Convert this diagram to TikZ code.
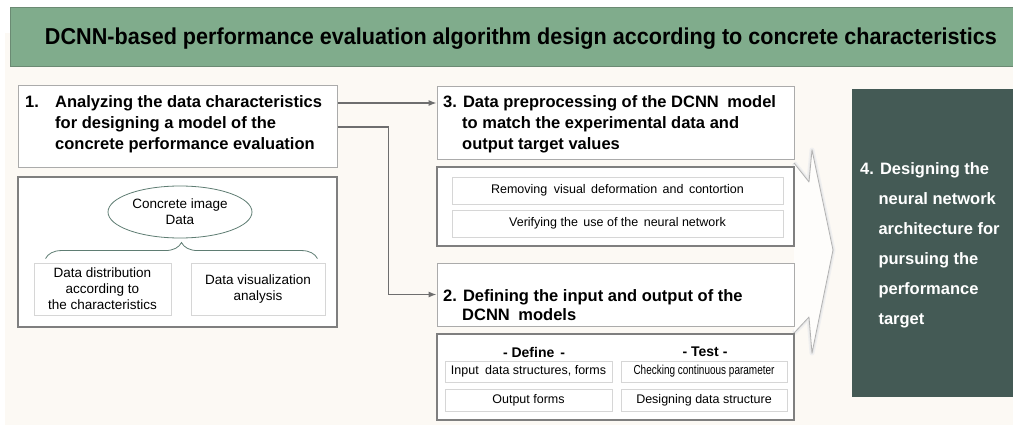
\documentclass[tikz,border=0pt]{standalone}
\usepackage{fontspec}
\setmainfont{Liberation Sans}
\usetikzlibrary{arrows.meta,decorations.pathreplacing,shapes.geometric,calc}

\definecolor{cream}{HTML}{FCF9F4}
\definecolor{banner}{HTML}{80AC8C}
\definecolor{bannerline}{HTML}{6B8A73}
\definecolor{slate}{HTML}{445A55}
\definecolor{boxline}{HTML}{ABABAB}
\definecolor{panelline}{HTML}{7F7F7F}
\definecolor{cellline}{HTML}{D6D6D6}
\definecolor{wire}{HTML}{6E6E6E}
\definecolor{ovalline}{HTML}{5F7D73}
\definecolor{arrowfill}{HTML}{FEFDFB}

\newcommand{\hdfont}{\fontsize{16.5}{21}\selectfont\bfseries}
\newcommand{\smfont}{\fontsize{12.5}{15}\selectfont}
\newcommand{\mdfont}{\fontsize{13.5}{16}\selectfont}

\begin{document}
\begin{tikzpicture}[x=1pt,y=-1pt,
  hdr/.style={draw=boxline, line width=1pt, fill=white, inner sep=0pt},
  panel/.style={draw=panelline, line width=1.4pt, fill=white, inner sep=0pt},
  cell/.style={draw=cellline, line width=0.9pt, fill=white, inner sep=0pt, align=center, font=\smfont},
  subcell/.style={cell, font=\mdfont},
  conn/.style={draw=wire, line width=1.1pt, -{Latex[length=8pt,width=6pt]}},
  headtxt/.style={font=\hdfont, inner sep=0pt, anchor=west, align=left},
]
\useasboundingbox (0,0) rectangle (1013,425);
\fill[white] (0,0) rectangle (1013,425);
\fill[cream] (5,33) rectangle (1013,425);

% title banner
\node[fill=banner, draw=bannerline, line width=1pt, minimum width=1010, minimum height=59, inner sep=0pt] (banner) at (515,37.5) {};
\node[font=\fontsize{23}{27}\selectfont\bfseries, inner sep=0pt] (title) at (521,38.5)
  {\resizebox{952pt}{\height}{DCNN-based performance evaluation algorithm design according to concrete characteristics}};

% merging arrow towards the final stage
\coordinate (m1) at (794,163);
\coordinate (m2) at (809,182);
\coordinate (m3) at (812,150);
\coordinate (m4) at (833,250);
\coordinate (m5) at (812,353);
\coordinate (m6) at (809,317);
\coordinate (m7) at (794,333);
\draw[black!6, line width=5pt, line join=round] (m1) -- (m2) -- (m3) -- (m4) -- (m5) -- (m6) -- (m7);
\draw[black!10, line width=2.5pt, line join=round] (m1) -- (m2) -- (m3) -- (m4) -- (m5) -- (m6) -- (m7);
\fill[arrowfill] (m1) -- (m2) -- (m3) -- (m4) -- (m5) -- (m6) -- (m7) -- cycle;
\draw[black!30, line width=0.8pt, line join=round] (m1) -- (m2) -- (m3) -- (m4) -- (m5) -- (m6) -- (m7);

% stage 1
\node[hdr, minimum width=319, minimum height=82] (b1) at (177.5,127) {};
\node[headtxt] (t1) at (25,124.5)
  {\makebox[30pt][l]{1.}Analyzing the data characteristics\\
   \hspace*{30pt}for designing a model of the\\
   \hspace*{30pt}concrete performance evaluation};
\node[panel, minimum width=319, minimum height=150] (p1) at (177.5,252) {};
\node[ellipse, draw=ovalline, line width=0.8pt, fill=white, minimum width=144, minimum height=52, inner sep=0pt, align=center, font=\mdfont] (oval) at (180,212) {Concrete image\\Data};
\node[subcell, minimum width=137, minimum height=52] (d1) at (102.5,289) {Data distribution\\according to\\the characteristics};
\node[subcell, minimum width=134, minimum height=52] (d2) at (258,289) {Data visualization\\analysis};
\coordinate (brl) at ($(d1.north west)+(12,-4)$);
\coordinate (brr) at ($(d2.north east)+(-8,-4)$);
\draw[ovalline, line width=0.8pt, decorate, decoration={brace, amplitude=16pt, aspect=0.5}] (brl) -- (brr);

% stage 3
\node[hdr, minimum width=357, minimum height=73] (b3) at (615.5,123.5) {};
\node[headtxt] (t3) at (443,124.2)
  {3. Data preprocessing of the DCNN\hspace{4pt} model\\
   \hspace*{19pt}to match the experimental data and\\
   \hspace*{19pt}output target values};
\node[panel, minimum width=357, minimum height=79] (p3) at (615.5,206.5) {};
\node[cell, minimum width=331, minimum height=27] (r1) at (617.5,190.5) {Removing\hspace{3pt} visual\hspace{2pt} deformation\hspace{2pt} and\hspace{2pt} contortion};
\node[cell, minimum width=331, minimum height=27] (r2) at (617.5,223.5) {Verifying the\hspace{2pt} use of the\hspace{2pt} neural network};

% stage 2
\node[hdr, minimum width=357, minimum height=63] (b2) at (615.5,294.5) {};
\node[headtxt, font=\fontsize{16.5}{19.5}\selectfont\bfseries] (t2) at (443,305)
  {2. Defining the input and output of the\\
   \hspace*{19pt}DCNN\hspace{4pt} models};
\node[panel, minimum width=357, minimum height=86] (p2) at (615.5,377) {};
\node[font=\fontsize{14}{16}\selectfont\bfseries, inner sep=0pt] (def) at (534,352) {- Define\hspace{2pt} -};
\node[font=\fontsize{14}{16}\selectfont\bfseries, inner sep=0pt] (tst) at (705,352) {- Test -};
\node[cell, minimum width=167, minimum height=21] (i1) at (528.5,371.5) {Input\hspace{3pt} data structures, forms};
\node[cell, minimum width=166, minimum height=21, font=\fontsize{13}{15}\selectfont] (i2) at (704,371.5) {\resizebox{141pt}{\height}{Checking continuous parameter}};
\node[cell, minimum width=167, minimum height=22] (i3) at (528.5,400) {Output forms};
\node[cell, minimum width=166, minimum height=22] (i4) at (704,400) {Designing data structure};

% stage 4
\node[fill=slate, minimum width=170, minimum height=308, inner sep=0pt] (b4) at (937,243) {};
\node[headtxt, text=white, font=\fontsize{16.5}{30}\selectfont\bfseries] (t4) at (860,245)
  {4. Designing the\\
   \hspace*{18.3pt}neural network\\
   \hspace*{18.3pt}architecture for\\
   \hspace*{18.3pt}pursuing the\\
   \hspace*{18.3pt}performance\\
   \hspace*{18.3pt}target};

% connectors
\draw[conn] ([yshift=24pt]b1.east) -- ([yshift=24pt]b1.east -| b3.west);
\draw[conn] (b1.east) -- ++(51,0) |- (b2.west);
\end{tikzpicture}
\end{document}
